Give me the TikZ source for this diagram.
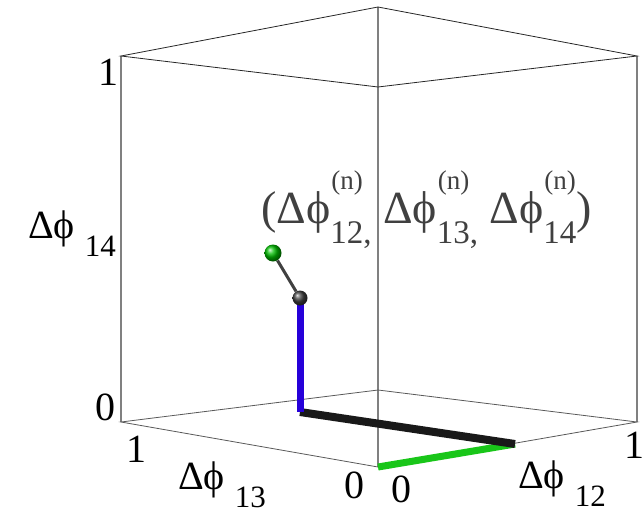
\documentclass[tikz,border=0pt]{standalone}
\usepackage{fontspec}
\setmainfont{Liberation Serif}
\usepackage{tikz}
\newcommand{\axlab}[1]{Δϕ\hspace{10pt}\raisebox{-18pt}{\fontsize{31}{31}\selectfont #1}}
\newcommand{\comp}[1]{Δϕ\makebox[0pt][l]{\hspace{1pt}\raisebox{34pt}{\fontsize{27}{27}\selectfont (n)}}\raisebox{-20pt}{\fontsize{33}{33}\selectfont #1}}

\begin{document}
\begin{tikzpicture}[x=1pt,y=-1pt,
   topedge/.style={line width=0.8pt,black!85},
   vedge/.style={line width=1.3pt,black!50},
   botedge/.style={line width=0.8pt,black!65},
   lab/.style={anchor=base west,inner sep=0pt,font=\fontsize{40}{40}\selectfont}]
\useasboundingbox (0,0) rectangle (644,514);
% corners of the box
\coordinate (TL) at (121,56);  \coordinate (TB) at (378,7);
\coordinate (TR) at (637,56);  \coordinate (TF) at (378,87);
\coordinate (BL) at (121,422); \coordinate (BB) at (378,390);
\coordinate (BR) at (637,422); \coordinate (BF) at (378,467);
\draw [vedge] (TL) -- (BL) (TR) -- (BR) (TB) -- (BB) (TF) -- (BF);
\draw [botedge] (BL) -- (BB) -- (BR) -- (BF) -- cycle;
\draw [topedge] (TL) -- (TB) -- (TR) -- (TF) -- cycle;
% steps of the walk
\coordinate (s1) at (515,444);
\coordinate (s2) at (300,412);
\draw [line width=7pt,green!75!black!90!white] (BF) -- (s1);
\draw [line width=8pt,black!90] (s1) -- (s2);
\draw [line width=7pt,blue!85!red] (s2) -- (300,298);
\node [circle,inner sep=0pt,minimum size=15pt,ball color=black!75] (now) at (300,298) {};
\node [circle,inner sep=0pt,minimum size=17pt,ball color=green!75!black] (next) at (273,253) {};
\draw [line width=3pt,black!75] (next) -- (now);
% tick labels
\node [lab] (z14a) at (98,85) {1};
\node [lab] (z14b) at (95,420) {0};
\node [lab] (z13a) at (126,462) {1};
\node [lab] (z13b) at (344,498) {0};
\node [lab] (z12b) at (391,502) {0};
\node [lab] (z12a) at (624,458) {1};
% axis names
\node [lab] (ax14) at (28,238) {\axlab{14}};
\node [lab] (ax13) at (178,489) {\axlab{13}};
\node [lab] (ax12) at (518,488) {\axlab{12}};
\node [lab,black!75,font=\fontsize{46}{46}\selectfont] (pt) at (261,223)
   {(\comp{12,} \comp{13,} \comp{14})};
\end{tikzpicture}
\end{document}
